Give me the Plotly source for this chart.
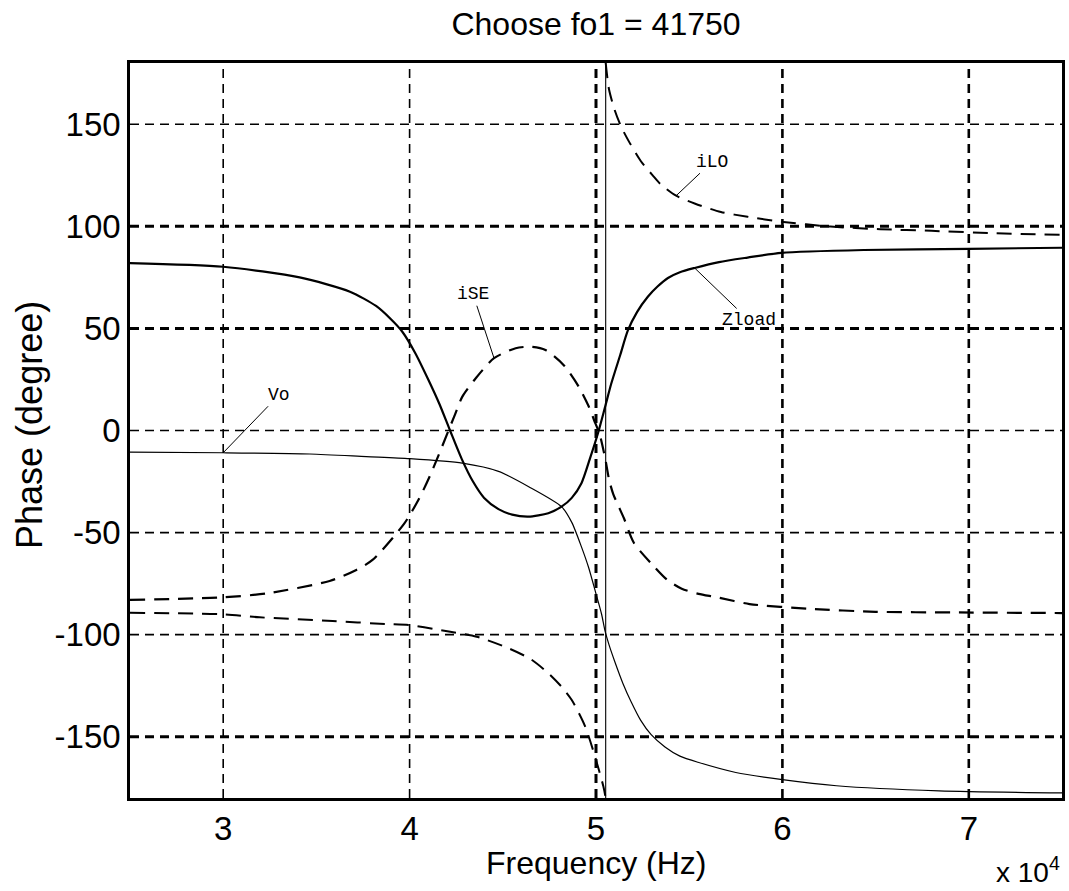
import plotly.graph_objects as go

# ---- data: phase (degrees) vs frequency (Hz) ----
zload_hz = [25000, 30000, 34100, 36800, 38200, 39000, 39600, 40300, 41000, 41600,
            42170, 42800, 43400, 44000, 44770, 45500, 46370, 47440, 48150, 48700,
            49220, 49700, 50110, 50500, 50820, 51300, 51710, 52200, 52780, 53300,
            53860, 54500, 55290, 56600, 58130, 59950, 64360, 70000, 75000]
zload_deg = [82, 80.2, 75, 68, 61, 54.5, 48.5, 38, 25, 13,
             0, -14, -25, -33, -38.5, -41.2, -42.2, -40.5, -37.3, -33,
             -25.8, -13, -1.2, 12, 23, 37, 49, 58, 65.5, 70.5,
             74.7, 77.5, 79.6, 82.5, 84.7, 87, 88.4, 89, 89.5]

vo_hz = [25000, 30000, 34650, 37680, 40000, 42830, 44770, 46390, 48150, 48700,
         49220, 49600, 50000, 50300, 50480, 50700, 51000, 51450, 51890, 52400,
         52960, 53700, 54500, 55470, 57500, 60000, 62900, 68400, 75000]
vo_deg = [-10.6, -10.9, -11.5, -12.8, -13.8, -16, -20, -27.5, -37.3, -45,
          -57, -67, -80, -90, -98, -105, -113, -124, -133, -142,
          -149, -155, -159.5, -162.5, -167.5, -171, -174, -176.5, -177.5]

ise_hz = [25000, 30000, 32330, 35710, 37140, 38010, 39720, 40520, 41150, 42390,
          42830, 43550, 44530, 45690, 46500, 47290, 48270, 49070, 49600, 49900,
          50200, 50500, 50700, 50920, 51500, 52030, 53120, 53800, 54600, 55500,
          56440, 58240, 61420, 65000, 69110, 75000]
ise_deg = [-83, -81.7, -79.8, -73.7, -68.3, -63.4, -45.5, -33.2, -21, 6.8,
           16.6, 25.6, 35.4, 40.3, 41, 39.4, 32, 21.5, 12, 5,
           -2, -14, -24, -31, -43, -55, -66.7, -73, -77.5, -80,
           -81.6, -85, -87.3, -88.8, -89.1, -89.4]

# iLO phase wraps from -180 to +180 between the two branches
ilo_low_hz = [25000, 30000, 31950, 35870, 38720, 40000, 42180, 43600, 45320, 46500,
              47460, 48200, 48700, 49420, 49950, 50400, 50520]
ilo_low_deg = [-89.3, -90, -91.5, -93.3, -94.8, -95.3, -98.6, -101, -106.7, -112,
               -119, -126, -132, -145, -159.8, -174.5, -180]
ilo_high_hz = [50520, 50700, 51000, 51340, 51800, 52400, 53040, 53480, 54300, 55290,
               56700, 58130, 59910, 62580, 65250, 68000, 71470, 75000]
ilo_high_deg = [180, 167, 157, 149, 141, 132, 125, 120.5, 115, 111.2,
                107, 104.7, 102.3, 99.9, 98.6, 97.8, 96.6, 95.8]

x_ticks = [30000, 40000, 50000, 60000, 70000]
x_tick_text = ["3", "4", "5", "6", "7"]
y_ticks = [-150, -100, -50, 0, 50, 100, 150]
y_tick_text = ["-150", "-100", "-50", "0", "50", "100", "150"]

# ---- styling ----
ink = "black"
sans = "Liberation Sans, Arial, Helvetica, sans-serif"
mono = "Liberation Mono, Courier New, monospace"
grid_dash = "9px,6px"
grid_w_x = {30000: 1.6, 40000: 1.6, 50000: 3.0, 60000: 2.6, 70000: 2.6}
grid_w_y = {150: 1.6, 100: 3.0, 50: 3.0, 0: 1.6, -50: 1.6, -100: 1.6, -150: 3.0}
curve_dash = "15px,9px"
smooth = dict(shape="spline", smoothing=0.7)

fig = go.Figure()

fig.add_trace(go.Scatter(x=zload_hz, y=zload_deg, mode="lines", name="Zload",
                         line=dict(color=ink, width=2.2, **smooth)))
fig.add_trace(go.Scatter(x=vo_hz, y=vo_deg, mode="lines", name="Vo",
                         line=dict(color=ink, width=1.2, **smooth)))
fig.add_trace(go.Scatter(x=ise_hz, y=ise_deg, mode="lines", name="iSE",
                         line=dict(color=ink, width=2.2, dash=curve_dash, **smooth)))
fig.add_trace(go.Scatter(x=ilo_low_hz, y=ilo_low_deg, mode="lines", name="iLO",
                         line=dict(color=ink, width=2.0, dash=curve_dash, **smooth)))
fig.add_trace(go.Scatter(x=ilo_high_hz, y=ilo_high_deg, mode="lines", name="iLO",
                         line=dict(color=ink, width=2.0, dash=curve_dash, **smooth)))
# vertical jump drawn where the iLO phase wraps around
fig.add_trace(go.Scatter(x=[ilo_low_hz[-1], ilo_high_hz[0]],
                         y=[ilo_low_deg[-1], ilo_high_deg[0]], mode="lines",
                         line=dict(color=ink, width=1.1)))

# dashed grid
shapes = []
for xv in x_ticks:
    shapes.append(dict(type="line", xref="x", yref="paper", x0=xv, x1=xv, y0=0, y1=1,
                       layer="below", line=dict(color=ink, width=grid_w_x[xv], dash=grid_dash)))
for yv in y_ticks:
    shapes.append(dict(type="line", xref="paper", yref="y", x0=0, x1=1, y0=yv, y1=yv,
                       layer="below", line=dict(color=ink, width=grid_w_y[yv], dash=grid_dash)))


def tag(text, x, y, ax, ay):
    return dict(text=text, x=x, y=y, xref="x", yref="y", ax=ax, ay=ay,
                showarrow=True, arrowhead=0, arrowwidth=1, arrowcolor=ink,
                font=dict(family=mono, size=18, color=ink))


annotations = [
    tag("Vo", vo_hz[1], vo_deg[1], 56, -58),
    tag("iSE", ise_hz[12], ise_deg[12], -21, -64),
    tag("iLO", ilo_high_hz[8], ilo_high_deg[8], 36, -34),
    tag("Zload", zload_hz[32], zload_deg[32], 54, 52),
    dict(text="Frequency (Hz)", xref="paper", yref="paper", x=0.5, y=-0.088,
         xanchor="center", yanchor="middle", showarrow=False,
         font=dict(family=sans, size=32, color=ink)),
    dict(text="Phase (degree)", xref="paper", yref="paper", x=-0.108, y=0.508,
         xanchor="center", yanchor="middle", textangle=-90, showarrow=False,
         font=dict(family=sans, size=36, color=ink)),
    dict(text="x 10<sup>4</sup>", xref="paper", yref="paper", x=1.0, y=-0.098,
         xanchor="right", yanchor="middle", showarrow=False,
         font=dict(family=sans, size=28, color=ink)),
]

fig.update_layout(
    width=1069, height=891,
    margin=dict(l=130, r=4, t=63, b=93),
    paper_bgcolor="white", plot_bgcolor="white",
    showlegend=False,
    title=dict(text="Choose fo1 = 41750", x=0.5, xref="paper", xanchor="center",
               y=1 - 24 / 891, yref="container", yanchor="middle",
               font=dict(family=sans, size=32, color=ink)),
    shapes=shapes,
    annotations=annotations,
)
fig.update_xaxes(range=[25000, 75000], tickvals=x_ticks, ticktext=x_tick_text,
                 showgrid=False, zeroline=False, showline=True, mirror=True,
                 linecolor=ink, linewidth=2.5, ticks="inside", ticklen=6,
                 tickcolor=ink, tickfont=dict(family=sans, size=33, color=ink))
fig.update_yaxes(range=[-180, 180], tickvals=y_ticks, ticktext=y_tick_text,
                 showgrid=False, zeroline=False, showline=True, mirror=True,
                 linecolor=ink, linewidth=2.5, ticks="inside", ticklen=6,
                 tickcolor=ink, tickfont=dict(family=sans, size=33, color=ink))

fig.write_html("out.html")
